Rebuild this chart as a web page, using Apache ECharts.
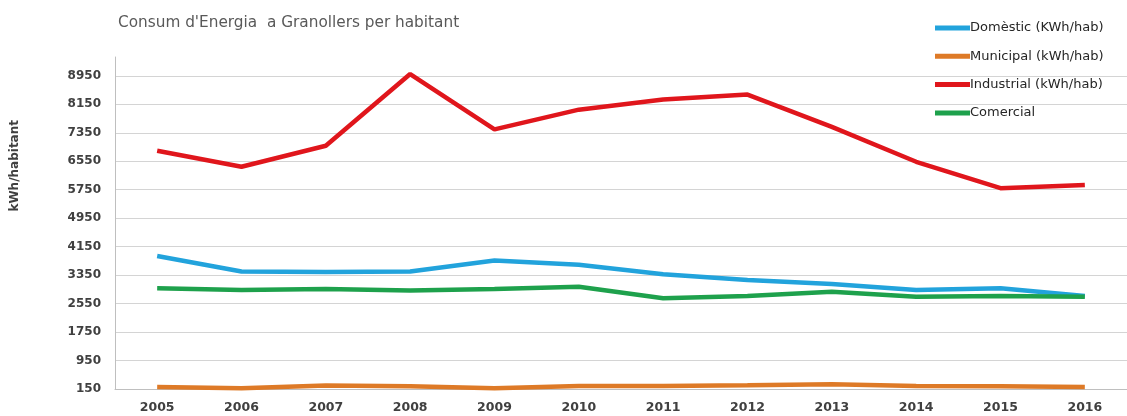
<!DOCTYPE html>
<html>
<head>
<meta charset="utf-8">
<script src="https://cdn.jsdelivr.net/npm/echarts@6/dist/echarts.min.js"></script>
<style>html,body{margin:0;padding:0;background:#fff;}#c{width:1127px;height:416px;}</style>
</head>
<body>
<div id="c"></div>
<script>
var years = ['2005','2006','2007','2008','2009','2010','2011','2012','2013','2014','2015','2016'];
var domestic = [3890, 3450, 3440, 3450, 3760, 3640, 3375, 3215, 3100, 2935, 2980, 2765];
var municipal = [206, 170, 250, 225, 170, 234, 234, 253, 280, 234, 225, 206];
var industrial = [6845, 6395, 6985, 9000, 7445, 8000, 8285, 8425, 7515, 6535, 5795, 5885];
var comercial = [2980, 2935, 2960, 2915, 2960, 3025, 2700, 2765, 2885, 2745, 2765, 2745];
var seriesNames = ['Domèstic (KWh/hab)', 'Municipal (kWh/hab)', 'Industrial (kWh/hab)', 'Comercial'];
var seriesColors = ['#22a3dc', '#de7a27', '#e0161c', '#1ea14c'];
var seriesData = [domestic, municipal, industrial, comercial];

var yMin = 150, yMax = 9480, yStep = 800;
var gridColors = [];
for (var v = yMin; v <= yMax; v += yStep) gridColors.push('#d4d4d4');
gridColors.push('rgba(0,0,0,0)');

var chart = echarts.init(document.getElementById('c'));
var font = '"DejaVu Sans", sans-serif';
chart.setOption({
  animation: false,
  backgroundColor: '#fff',
  title: {
    text: "Consum d'Energia  a Granollers per habitant",
    left: 113, top: 11,
    textStyle: { fontFamily: font, fontSize: 15.3, fontWeight: 'normal', color: '#595959' }
  },
  graphic: [{
    type: 'text',
    left: 9, top: 120,
    rotation: Math.PI / 2,
    style: { text: 'kWh/habitant', fontFamily: font, fontSize: 12, fontWeight: 'bold', fill: '#404040' }
  }],
  legend: {
    orient: 'vertical',
    left: 930, top: 16,
    itemWidth: 35, itemHeight: 5, itemGap: 14.3,
    icon: 'rect',
    data: seriesNames,
    textStyle: { fontFamily: font, fontSize: 13, color: '#262626', lineHeight: 14, padding: [0, 0, 0, -5] }
  },
  grid: { left: 115, right: -11, top: 57, bottom: 27, containLabel: false },
  xAxis: {
    type: 'category',
    data: years,
    boundaryGap: true,
    axisLine: { lineStyle: { color: '#bfbfbf', width: 1 } },
    axisTick: { show: false },
    axisLabel: { fontFamily: font, fontSize: 12.5, fontWeight: 'bold', color: '#404040', margin: 12 }
  },
  yAxis: {
    type: 'value',
    min: yMin, max: yMax, interval: yStep,
    axisLine: { show: true, lineStyle: { color: '#bfbfbf', width: 1 } },
    axisTick: { show: false },
    axisLabel: {
      fontFamily: font, fontSize: 12, fontWeight: 'bold', color: '#404040', margin: 14, showMaxLabel: false,
      formatter: function (v) { return String(v); }
    },
    splitLine: { show: true, showMaxLine: false, lineStyle: { color: gridColors, width: 1 } }
  },
  series: seriesNames.map(function (n, i) {
    return {
      name: n, type: 'line', data: seriesData[i],
      showSymbol: false, symbol: 'none',
      lineStyle: { color: seriesColors[i], width: 4.5 },
      itemStyle: { color: seriesColors[i] }
    };
  })
});
</script>
</body>
</html>
